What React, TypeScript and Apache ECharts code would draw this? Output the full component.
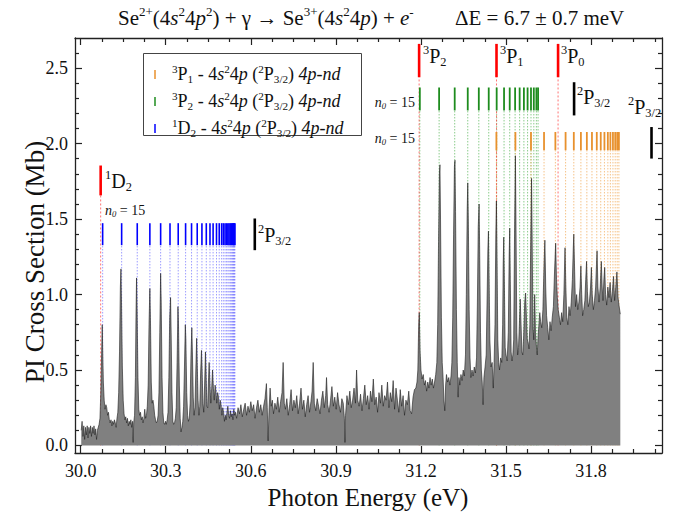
import React, { useEffect, useRef } from "react";
import * as echarts from "echarts";

// ---------- axis ticks ----------
const xMajorTicks = [30.0, 30.3, 30.6, 30.9, 31.2, 31.5, 31.8];
const xMinorTicks = [30.075, 30.15, 30.225, 30.375, 30.45, 30.525, 30.675, 30.75, 30.825, 30.975, 31.05, 31.125, 31.275, 31.35, 31.425, 31.575, 31.65, 31.725, 31.875, 31.95, 32.025];
const yMajorTicks = [0, 0.5, 1.0, 1.5, 2.0, 2.5];
const yMinorTicks = [0.1, 0.2, 0.3, 0.4, 0.6, 0.7, 0.8, 0.9, 1.1, 1.2, 1.3, 1.4, 1.6, 1.7, 1.8, 1.9, 2.1, 2.2, 2.3, 2.4, 2.6];

// ---------- spectrum (photon energy eV, PI cross section Mb) ----------
const spectrumLow: [number, number][] = [
  [30.002, 0.10], [30.005, 0.16], [30.008, 0.06], [30.011, 0.13], [30.014, 0.04], [30.017, 0.12], [30.020, 0.07], [30.023, 0.13],
  [30.026, 0.05], [30.029, 0.12], [30.032, 0.08], [30.035, 0.13], [30.038, 0.06], [30.041, 0.12], [30.044, 0.08], [30.047, 0.13],
  [30.050, 0.07], [30.053, 0.11], [30.056, 0.04], [30.059, 0.10], [30.062, 0.12], [30.065, 0.14], [30.068, 0.18], [30.071, 0.35],
  [30.074, 0.62], [30.076, 0.80], [30.078, 0.60], [30.080, 0.42], [30.083, 0.30], [30.086, 0.24], [30.089, 0.27], [30.092, 0.25],
  [30.095, 0.20], [30.098, 0.22], [30.101, 0.17], [30.104, 0.15], [30.107, 0.17], [30.110, 0.13], [30.113, 0.16], [30.116, 0.14],
  [30.119, 0.17], [30.122, 0.15], [30.125, 0.12], [30.128, 0.18], [30.131, 0.22], [30.134, 0.35], [30.137, 0.62], [30.140, 1.05],
  [30.142, 1.17], [30.144, 0.95], [30.147, 0.52], [30.150, 0.30], [30.153, 0.21], [30.156, 0.17], [30.159, 0.19], [30.162, 0.15],
  [30.165, 0.18], [30.168, 0.13], [30.171, 0.16], [30.174, 0.14], [30.177, 0.17], [30.180, 0.12], [30.183, 0.16], [30.185, 0.02],
  [30.187, 0.15], [30.190, 0.20], [30.193, 0.45], [30.195, 0.85], [30.197, 1.11], [30.199, 0.90], [30.202, 0.45], [30.205, 0.24],
  [30.208, 0.20], [30.211, 0.22], [30.214, 0.17], [30.217, 0.19], [30.220, 0.15], [30.223, 0.18], [30.226, 0.24], [30.229, 0.18],
  [30.232, 0.20], [30.235, 0.26], [30.238, 0.40], [30.241, 0.80], [30.244, 1.04], [30.246, 0.85], [30.249, 0.42], [30.252, 0.28],
  [30.255, 0.30], [30.258, 0.26], [30.261, 0.20], [30.264, 0.17], [30.267, 0.15], [30.270, 0.16], [30.273, 0.20], [30.276, 0.35],
  [30.279, 0.75], [30.282, 1.14], [30.284, 0.95], [30.287, 0.45], [30.290, 0.22], [30.293, 0.15], [30.296, 0.14], [30.299, 0.16],
  [30.302, 0.14], [30.305, 0.17], [30.308, 0.22], [30.311, 0.45], [30.314, 0.85], [30.317, 0.98], [30.319, 0.75], [30.322, 0.35],
  [30.325, 0.16], [30.328, 0.14], [30.331, 0.15], [30.334, 0.18], [30.337, 0.25], [30.340, 0.55], [30.343, 0.92], [30.345, 0.80],
  [30.348, 0.40], [30.351, 0.18], [30.354, 0.09], [30.357, 0.12], [30.360, 0.16], [30.363, 0.26], [30.366, 0.52], [30.369, 0.80],
  [30.371, 0.70], [30.374, 0.35], [30.377, 0.20], [30.380, 0.16], [30.383, 0.18], [30.386, 0.28], [30.389, 0.60], [30.392, 0.78],
  [30.394, 0.62], [30.397, 0.32], [30.400, 0.20], [30.403, 0.25], [30.406, 0.50], [30.409, 0.71], [30.411, 0.55], [30.414, 0.30],
  [30.417, 0.20], [30.420, 0.26], [30.423, 0.48], [30.426, 0.63], [30.428, 0.52], [30.431, 0.28], [30.434, 0.22], [30.437, 0.40],
  [30.440, 0.62], [30.442, 0.50], [30.445, 0.26], [30.448, 0.25], [30.451, 0.45], [30.453, 0.55], [30.456, 0.40], [30.459, 0.28],
  [30.462, 0.38], [30.465, 0.50], [30.468, 0.38], [30.471, 0.30], [30.474, 0.40], [30.477, 0.36], [30.480, 0.28], [30.483, 0.35],
  [30.486, 0.32], [30.489, 0.24], [30.492, 0.30], [30.495, 0.27], [30.498, 0.20], [30.501, 0.25], [30.504, 0.22], [30.507, 0.16],
  [30.510, 0.20], [30.513, 0.17], [30.516, 0.22], [30.519, 0.26], [30.522, 0.20], [30.525, 0.18], [30.528, 0.23], [30.531, 0.19],
  [30.534, 0.21], [30.537, 0.17], [30.540, 0.24], [30.543, 0.20],
];

const spectrumMid: [number, number][] = [
  [30.546, 0.22], [30.550, 0.18], [30.555, 0.25], [30.560, 0.21], [30.565, 0.27], [30.570, 0.19], [30.575, 0.24], [30.580, 0.28],
  [30.585, 0.20], [30.590, 0.26], [30.595, 0.22], [30.600, 0.29], [30.605, 0.23], [30.610, 0.27], [30.615, 0.18], [30.620, 0.25],
  [30.625, 0.30], [30.630, 0.22], [30.635, 0.27], [30.640, 0.20], [30.645, 0.26], [30.650, 0.31], [30.655, 0.41], [30.658, 0.25],
  [30.661, 0.03], [30.664, 0.22], [30.668, 0.38], [30.672, 0.26], [30.676, 0.30], [30.680, 0.21], [30.685, 0.28], [30.690, 0.24],
  [30.695, 0.32], [30.700, 0.22], [30.705, 0.29], [30.710, 0.35], [30.714, 0.55], [30.718, 0.28], [30.722, 0.24], [30.727, 0.31],
  [30.732, 0.20], [30.737, 0.27], [30.742, 0.37], [30.747, 0.23], [30.752, 0.30], [30.757, 0.25], [30.762, 0.33], [30.767, 0.21],
  [30.772, 0.28], [30.777, 0.38], [30.782, 0.24], [30.787, 0.30], [30.792, 0.19], [30.797, 0.27], [30.802, 0.33], [30.807, 0.22],
  [30.812, 0.29], [30.816, 0.36], [30.820, 0.55], [30.824, 0.28], [30.829, 0.23], [30.834, 0.31], [30.839, 0.26], [30.844, 0.21],
  [30.849, 0.30], [30.854, 0.36], [30.859, 0.25], [30.864, 0.33], [30.867, 0.45], [30.871, 0.27], [30.876, 0.22], [30.881, 0.30],
  [30.886, 0.39], [30.891, 0.26], [30.896, 0.32], [30.901, 0.24], [30.906, 0.35], [30.911, 0.27], [30.916, 0.22], [30.921, 0.31],
  [30.926, 0.28], [30.930, 0.18], [30.932, 0.02], [30.934, 0.20], [30.939, 0.33], [30.944, 0.27], [30.949, 0.36], [30.954, 0.25],
  [30.959, 0.30], [30.964, 0.38], [30.969, 0.28], [30.973, 0.50], [30.977, 0.30], [30.982, 0.26], [30.987, 0.34], [30.992, 0.23],
  [30.997, 0.31], [31.002, 0.40], [31.007, 0.27], [31.012, 0.33], [31.017, 0.24], [31.022, 0.36], [31.027, 0.29], [31.032, 0.44],
  [31.037, 0.27], [31.042, 0.32], [31.047, 0.22], [31.052, 0.35], [31.057, 0.28], [31.062, 0.40], [31.067, 0.26], [31.072, 0.33],
  [31.077, 0.30], [31.082, 0.42], [31.087, 0.25], [31.092, 0.35], [31.097, 0.29], [31.102, 0.43], [31.107, 0.24], [31.112, 0.38],
  [31.117, 0.30], [31.122, 0.22], [31.127, 0.37], [31.132, 0.26], [31.137, 0.33], [31.142, 0.20], [31.147, 0.30], [31.152, 0.27],
  [31.157, 0.36], [31.162, 0.23], [31.167, 0.21], [31.172, 0.32], [31.177, 0.37], [31.182, 0.38], [31.186, 0.42],
];

const spectrumHigh: [number, number][] = [
  [31.189, 0.50], [31.192, 0.80], [31.194, 0.88], [31.197, 0.62], [31.200, 0.50], [31.204, 0.44], [31.208, 0.47], [31.212, 0.40],
  [31.216, 0.43], [31.220, 0.36], [31.224, 0.42], [31.228, 0.38], [31.232, 0.45], [31.236, 0.40], [31.240, 0.44], [31.244, 0.38],
  [31.248, 0.42], [31.252, 0.47], [31.256, 0.55], [31.259, 0.80], [31.262, 1.35], [31.265, 1.80], [31.267, 1.86], [31.269, 1.50],
  [31.272, 0.85], [31.275, 0.55], [31.278, 0.45], [31.281, 0.30], [31.284, 0.23], [31.287, 0.40], [31.290, 0.47], [31.294, 0.42],
  [31.298, 0.45], [31.302, 0.40], [31.306, 0.46], [31.309, 0.55], [31.312, 0.85], [31.315, 1.40], [31.318, 1.85], [31.320, 1.89],
  [31.322, 1.55], [31.325, 0.90], [31.328, 0.55], [31.331, 0.32], [31.334, 0.45], [31.337, 0.40], [31.341, 0.47], [31.345, 0.43],
  [31.349, 0.50], [31.353, 0.46], [31.357, 0.60], [31.360, 1.00], [31.363, 1.55], [31.365, 1.74], [31.367, 1.50], [31.370, 0.90],
  [31.373, 0.58], [31.376, 0.45], [31.380, 0.50], [31.384, 0.46], [31.388, 0.52], [31.392, 0.48], [31.396, 0.58], [31.399, 0.95],
  [31.402, 1.45], [31.405, 1.60], [31.407, 1.30], [31.410, 0.75], [31.413, 0.50], [31.416, 0.42], [31.419, 0.27], [31.422, 0.45],
  [31.426, 0.52], [31.430, 0.60], [31.433, 0.95], [31.436, 1.30], [31.438, 1.42], [31.440, 1.15], [31.443, 0.70], [31.447, 0.52],
  [31.451, 0.55], [31.455, 0.38], [31.458, 0.55], [31.461, 0.80], [31.464, 1.40], [31.466, 1.62], [31.468, 1.30], [31.471, 0.70],
  [31.474, 0.55], [31.477, 0.50], [31.481, 0.58], [31.485, 0.55], [31.488, 0.80], [31.490, 1.20], [31.492, 1.38], [31.494, 1.10],
  [31.497, 0.65], [31.500, 0.60], [31.504, 0.56], [31.508, 0.75], [31.511, 1.25], [31.513, 1.44], [31.515, 1.10], [31.518, 0.62],
  [31.521, 0.56], [31.524, 0.60], [31.527, 0.70], [31.530, 1.40], [31.533, 1.92], [31.535, 1.50], [31.538, 0.75], [31.541, 0.60],
  [31.544, 0.65], [31.547, 0.80], [31.550, 0.97], [31.553, 0.80], [31.556, 0.62], [31.559, 0.60], [31.562, 0.72], [31.566, 0.95],
  [31.569, 1.01], [31.572, 0.85], [31.575, 0.70], [31.578, 0.68], [31.581, 0.64], [31.584, 0.80], [31.587, 1.35], [31.590, 1.77],
  [31.592, 1.40], [31.595, 0.78], [31.598, 0.70], [31.601, 1.00], [31.604, 0.74], [31.607, 0.66], [31.610, 0.60], [31.613, 0.72],
  [31.616, 0.80], [31.619, 0.88], [31.622, 0.82], [31.626, 0.78], [31.630, 0.90], [31.634, 1.20], [31.637, 1.36], [31.640, 1.05],
  [31.643, 0.86], [31.647, 0.78], [31.651, 0.70], [31.655, 0.82], [31.659, 0.76], [31.663, 0.85], [31.667, 0.92], [31.671, 1.15],
  [31.675, 1.34], [31.678, 1.10], [31.681, 0.98], [31.684, 0.90], [31.688, 0.85], [31.692, 0.80], [31.696, 0.88], [31.700, 0.82],
  [31.704, 1.00], [31.708, 1.31], [31.711, 1.05], [31.714, 0.85], [31.718, 0.80], [31.722, 0.92], [31.726, 0.86], [31.730, 0.95],
  [31.734, 1.10], [31.737, 1.30], [31.739, 1.40], [31.742, 1.15], [31.745, 0.92], [31.749, 1.00], [31.753, 0.90], [31.757, 0.95],
  [31.761, 1.05], [31.764, 1.19], [31.767, 1.00], [31.770, 0.86], [31.774, 0.90], [31.778, 0.96], [31.781, 1.10], [31.784, 1.22],
  [31.787, 1.02], [31.790, 0.92], [31.794, 0.95], [31.798, 1.05], [31.801, 1.18], [31.804, 1.00], [31.808, 0.90], [31.812, 0.96],
  [31.816, 1.05], [31.819, 1.20], [31.821, 1.29], [31.824, 1.05], [31.828, 0.95], [31.832, 1.05], [31.836, 1.22], [31.839, 1.05],
  [31.842, 0.96], [31.845, 1.10], [31.848, 1.18], [31.851, 1.00], [31.855, 0.93], [31.859, 1.05], [31.863, 0.98], [31.867, 1.08],
  [31.871, 0.95], [31.875, 1.02], [31.879, 1.12], [31.883, 0.96], [31.887, 1.05], [31.891, 1.15], [31.895, 0.98], [31.899, 0.92],
  [31.903, 0.87],
];

// ---------- Rydberg series line positions (eV) ----------
const seriesD2 = [30.0775, 30.1445, 30.1995, 30.244, 30.282, 30.315, 30.344, 30.370, 30.391, 30.411, 30.4276, 30.443, 30.456, 30.467,
  30.479, 30.4886, 30.497, 30.503, 30.509, 30.514, 30.519, 30.523, 30.527, 30.530, 30.533, 30.536, 30.538, 30.540, 30.542, 30.544];
const seriesP2 = [31.196, 31.264, 31.319, 31.365, 31.404, 31.439, 31.467, 31.493, 31.513, 31.532, 31.548, 31.563, 31.576, 31.588,
  31.598, 31.607, 31.613];
const seriesP1 = [31.466, 31.533, 31.588, 31.634, 31.674, 31.710, 31.739, 31.764, 31.785, 31.803, 31.820, 31.834, 31.847, 31.859,
  31.868, 31.877, 31.885, 31.892, 31.898];
const initialStates = ["1D2", "3P2", "3P1", "3P0"];
const initialStateEnergies = [30.0705, 31.1935, 31.4664, 31.6835];
const limitEnergies = [30.614, 31.740, 32.013];

const SERIF = '"Liberation Serif", "Times New Roman", serif';
const INK = "#111";

function richStyles(F: number) {
  return {
    m: { fontSize: F, fontFamily: SERIF, lineHeight: 1.2 * F, fill: INK },
    i: { fontSize: F, fontFamily: SERIF, fontStyle: "italic", lineHeight: 1.2 * F, fill: INK },
    sp: { fontSize: 0.62 * F, fontFamily: SERIF, lineHeight: 0.8 * F, verticalAlign: "top", fill: INK },
    sb: { fontSize: 0.62 * F, fontFamily: SERIF, lineHeight: 0.62 * F, verticalAlign: "bottom", fill: INK },
    sbi: { fontSize: 0.62 * F, fontFamily: SERIF, fontStyle: "italic", lineHeight: 0.62 * F, verticalAlign: "bottom", fill: INK },
  };
}

function richText(x: number, y: number, text: string, F: number, align = "left", vAlign = "top") {
  return {
    type: "text", x, y, silent: true,
    style: { text, rich: richStyles(F), align, verticalAlign: vAlign, fontFamily: SERIF, fontSize: F, fill: INK },
  };
}

function lineMarks(energies: number[], lo: number, hi: number, color: string, width: number, z: number, dash?: number[]) {
  return {
    type: "custom", z, silent: true,
    renderItem: (_p: any, api: any) => {
      const a = api.coord([api.value(0), api.value(1)]);
      const b = api.coord([api.value(0), api.value(2)]);
      return {
        type: "line",
        shape: { x1: a[0], y1: a[1], x2: b[0], y2: b[1] },
        style: { stroke: color, lineWidth: width, lineDash: dash },
      };
    },
    encode: { x: 0, y: [1, 2] },
    data: energies.map((e) => [e, lo, hi]),
  };
}

export default function App() {
  const ref = useRef<HTMLDivElement>(null);
  useEffect(() => {
    if (!ref.current) return;
    const chart = echarts.init(ref.current, undefined, { renderer: "svg" });
    const X0 = 29.98, X1 = 32.05, Y0 = -0.05, Y1 = 2.7;
    const AX = "#222";
    const tickStyle = { color: AX, width: 1.2 };
    const xBase = { type: "value", min: X0, max: X1, splitLine: { show: false } };
    const yBase = { type: "value", min: Y0, max: Y1, splitLine: { show: false } };
    const spectrum = [...spectrumLow, ...spectrumMid, ...spectrumHigh];
    const hiddenLine = { show: false, onZero: false };
    const frameLine = { show: true, onZero: false, lineStyle: { color: AX, width: 1.3 } };

    const option: any = {
      animation: false,
      backgroundColor: "#fff",
      grid: { left: 75, right: 12, top: 38, bottom: 62, containLabel: false },
      xAxis: [
        {
          ...xBase, position: "bottom", axisLine: frameLine,
          axisTick: { show: true, inside: true, length: 7, customValues: xMajorTicks, lineStyle: tickStyle },
          axisLabel: { show: true, customValues: xMajorTicks, formatter: (v: number) => v.toFixed(1), fontSize: 18, fontFamily: SERIF, color: INK, margin: 9 },
        },
        {
          ...xBase, position: "bottom", axisLine: hiddenLine,
          axisTick: { show: true, inside: true, length: 4, customValues: xMinorTicks, lineStyle: tickStyle },
          axisLabel: { show: false },
        },
        {
          ...xBase, position: "top", axisLine: frameLine,
          axisTick: { show: true, inside: true, length: 7, customValues: xMajorTicks, lineStyle: tickStyle },
          axisLabel: { show: false },
        },
        {
          ...xBase, position: "top", axisLine: hiddenLine,
          axisTick: { show: true, inside: true, length: 4, customValues: xMinorTicks, lineStyle: tickStyle },
          axisLabel: { show: false },
        },
      ],
      yAxis: [
        {
          ...yBase, position: "left", axisLine: frameLine,
          axisTick: { show: true, inside: true, length: 7, customValues: yMajorTicks, lineStyle: tickStyle },
          axisLabel: { show: true, customValues: yMajorTicks, formatter: (v: number) => v.toFixed(1), fontSize: 18, fontFamily: SERIF, color: INK, margin: 7 },
        },
        {
          ...yBase, position: "left", axisLine: hiddenLine,
          axisTick: { show: true, inside: true, length: 4, customValues: yMinorTicks, lineStyle: tickStyle },
          axisLabel: { show: false },
        },
        {
          ...yBase, position: "right", axisLine: frameLine,
          axisTick: { show: true, inside: true, length: 7, customValues: yMajorTicks, lineStyle: tickStyle },
          axisLabel: { show: false },
        },
        {
          ...yBase, position: "right", axisLine: hiddenLine,
          axisTick: { show: true, inside: true, length: 4, customValues: yMinorTicks, lineStyle: tickStyle },
          axisLabel: { show: false },
        },
      ],
      series: [
        // dotted guide lines (behind the spectrum)
        lineMarks(seriesD2, 0, 1.327, "rgba(90,90,255,0.75)", 0.8, 1, [1.5, 1.5]),
        lineMarks(seriesP2, 0, 2.22, "rgba(60,170,60,0.75)", 0.8, 1, [1.5, 1.5]),
        lineMarks(seriesP1, 0, 1.956, "rgba(240,160,70,0.8)", 0.8, 1, [1.5, 1.5]),
        lineMarks(initialStateEnergies.slice(0, 1), 0, 1.657, "rgba(255,60,60,0.8)", 0.9, 1, [2, 2]),
        lineMarks(initialStateEnergies.slice(1), 0, 2.44, "rgba(255,60,60,0.8)", 0.9, 1, [2, 2]),
        {
          type: "line", name: "PI cross section", z: 2, silent: true,
          data: spectrum, showSymbol: false, symbol: "none",
          lineStyle: { color: "#1c1c1c", width: 0.6 },
          areaStyle: { color: "#808080", opacity: 1 },
        },
        // series ticks
        lineMarks(seriesD2, 1.327, 1.473, "#0000ff", 1.6, 3),
        lineMarks(seriesP2, 2.22, 2.372, "#1e8c1e", 1.8, 3),
        lineMarks(seriesP1, 1.956, 2.077, "#e8912d", 1.8, 3),
        lineMarks(initialStateEnergies.slice(0, 1), 1.657, 1.855, "#ff0000", 2.6, 3),
        lineMarks(initialStateEnergies.slice(1), 2.44, 2.661, "#ff0000", 2.6, 3),
        lineMarks(limitEnergies.slice(0, 1), 1.294, 1.504, "#000", 2.6, 3),
        lineMarks(limitEnergies.slice(1, 2), 2.187, 2.407, "#000", 2.6, 3),
        lineMarks(limitEnergies.slice(2, 3), 1.901, 2.110, "#000", 2.6, 3),
      ],
      graphic: [
        // title
        richText(118, 18, "{m|Se}{sp|2+}{m|(4}{i|s}{sp|2}{m|4}{i|p}{sp|2}{m|) + γ → Se}{sp|3+}{m|(4}{i|s}{sp|2}{m|4}{i|p}{m|) + }{i|e}{sp|-}", 21, "left", "middle"),
        richText(455, 18, "{m|ΔE = 6.7 ± 0.7 meV}", 21, "left", "middle"),
        // axis names
        { type: "text", x: 368, y: 497, silent: true, style: { text: "Photon Energy (eV)", fontFamily: SERIF, fontSize: 25, fill: INK, align: "center", verticalAlign: "middle" } },
        { type: "text", x: 35, y: 262, rotation: Math.PI / 2, silent: true, style: { text: "PI Cross Section (Mb)", fontFamily: SERIF, fontSize: 27, fill: INK, align: "center", verticalAlign: "middle" } },
        // legend box
        { type: "rect", shape: { x: 143.5, y: 53.5, width: 218, height: 82 }, style: { fill: "#fff", stroke: "#444", lineWidth: 1 }, z: 10 },
        { type: "line", shape: { x1: 155, y1: 70, x2: 155, y2: 79 }, style: { stroke: "#e8912d", lineWidth: 1.5 }, z: 11 },
        { type: "line", shape: { x1: 155, y1: 97, x2: 155, y2: 106 }, style: { stroke: "#1e8c1e", lineWidth: 1.5 }, z: 11 },
        { type: "line", shape: { x1: 155, y1: 124, x2: 155, y2: 133 }, style: { stroke: "#0000ff", lineWidth: 1.5 }, z: 11 },
        { ...richText(172, 74, "{sp|3}{m|P}{sb|1}{m| - 4}{i|s}{sp|2}{m|4}{i|p}{m| (}{sp|2}{m|P}{sb|3/2}{m|) }{i|4p-nd}", 18, "left", "middle"), z: 11 },
        { ...richText(172, 101, "{sp|3}{m|P}{sb|2}{m| - 4}{i|s}{sp|2}{m|4}{i|p}{m| (}{sp|2}{m|P}{sb|3/2}{m|) }{i|4p-nd}", 18, "left", "middle"), z: 11 },
        { ...richText(172, 128, "{sp|1}{m|D}{sb|2}{m| - 4}{i|s}{sp|2}{m|4}{i|p}{m| (}{sp|2}{m|P}{sb|3/2}{m|) }{i|4p-nd}", 18, "left", "middle"), z: 11 },
        // state labels
        richText(105, 169, "{sp|1}{m|D}{sb|2}", 20),
        richText(423, 44, "{sp|3}{m|P}{sb|2}", 20),
        richText(500, 44, "{sp|3}{m|P}{sb|1}", 20),
        richText(561, 44, "{sp|3}{m|P}{sb|0}", 20),
        // limits
        richText(258, 223, "{sp|2}{m|P}{sb|3/2}", 20),
        richText(577, 85, "{sp|2}{m|P}{sb|3/2}", 20),
        richText(628, 95, "{sp|2}{m|P}{sb|3/2}", 20),
        // n0 labels
        richText(105, 210, "{i|n}{sbi|0}{m| = 15}", 14, "left", "middle"),
        richText(415, 102, "{i|n}{sbi|0}{m| = 15}", 14, "right", "middle"),
        richText(415, 138, "{i|n}{sbi|0}{m| = 15}", 14, "right", "middle"),
      ],
    };
    chart.setOption(option);
    return () => chart.dispose();
  }, []);
  return <div ref={ref} style={{ position: "fixed", left: 0, top: 0, width: 674, height: 515, background: "#fff" }} />;
}
